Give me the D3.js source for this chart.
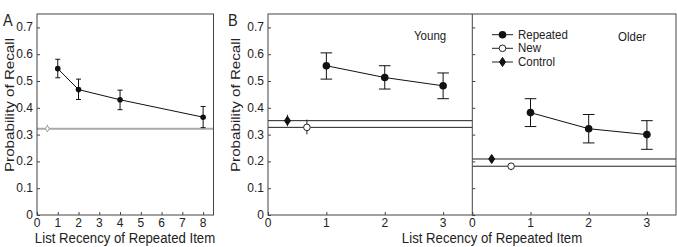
<!DOCTYPE html>
<html>
<head>
<meta charset="utf-8">
<script src="https://cdn.jsdelivr.net/npm/d3@7"></script>
<style>
  body { margin: 0; background: #fff; }
  svg text { font-family: "Liberation Sans", Arial, Helvetica, sans-serif; fill: #222; }
</style>
</head>
<body>
<svg id="chart" width="677" height="247"></svg>
<script>
// ---- data ----
var yTicks = [0, 0.1, 0.2, 0.3, 0.4, 0.5, 0.6, 0.7];

// panel A
var recencyA = [1, 2, 4, 8];
var recallA = [0.546, 0.468, 0.430, 0.365];
var loA = [0.512, 0.431, 0.393, 0.326];
var hiA = [0.581, 0.507, 0.466, 0.405];
var ticksA = [0, 1, 2, 3, 4, 5, 6, 7, 8];
var newA = {x: 0.5, y: 0.322, lo: 0.310, hi: 0.337};

// panel B
var recencyB = [1, 2, 3];
var ticksB = [0, 1, 2, 3];
var youngRepeated = [0.557, 0.513, 0.482];
var youngLo = [0.507, 0.470, 0.434];
var youngHi = [0.605, 0.557, 0.530];
var youngControl = {x: 1 / 3, y: 0.352, lo: 0.331, hi: 0.374};
var youngNew = {x: 2 / 3, y: 0.327, lo: 0.301, hi: 0.356};

var olderRepeated = [0.382, 0.322, 0.300];
var olderLo = [0.330, 0.269, 0.245];
var olderHi = [0.434, 0.375, 0.352];
var olderControl = {x: 1 / 3, y: 0.209, lo: 0.196, hi: 0.222};
var olderNew = {x: 2 / 3, y: 0.182, lo: 0.167, hi: 0.194};

var legendItems = ['Repeated', 'New', 'Control'];

// ---- layout ----
var svg = d3.select('#chart');
var plotTop = 14, plotBottom = 215;
var frameCol = '#444';
var stretch = 1.1; // the figure text is a bit taller than wide

var y = d3.scaleLinear().domain([0, 0.75]).range([plotBottom, plotTop]);

function diamond(g, cx, cy, w, h, fill, stroke) {
	g.append('path')
	.attr('d', 'M' + cx + ',' + (cy - h) + 'L' + (cx + w) + ',' + cy + 'L' + cx + ',' + (cy + h) + 'L' + (cx - w) + ',' + cy + 'Z')
	.attr('fill', fill).attr('stroke', stroke).attr('stroke-width', 1);
}

function hText(x0, y0, str, size, anchor) {
	return svg.append('text')
	.attr('transform', 'translate(' + x0 + ',' + y0 + ') scale(1,' + stretch + ')')
	.attr('text-anchor', anchor || 'start')
	.style('font-size', size + 'px')
	.text(str);
}

function yTitle(xb, yc) {
	svg.append('text')
	.attr('transform', 'translate(' + xb + ',' + yc + ') scale(1,1.15) rotate(-90)')
	.attr('text-anchor', 'middle')
	.style('font-size', '13.2px')
	.text('Probability of Recall');
}

// y axis: inward ticks + labels (labels optional)
function yAxis(xPos, labels) {
	var ax = svg.append('g').attr('transform', 'translate(' + xPos + ',0)')
	.call(d3.axisRight(y).tickValues(yTicks).tickSize(3).tickFormat(''));
	ax.select('.domain').remove();
	ax.selectAll('line').attr('stroke', frameCol);
	if (labels) {
		svg.append('g').selectAll('text').data(yTicks).join('text')
		.attr('x', xPos - 4).attr('y', function(d){ return y(d) + 4; })
		.attr('text-anchor', 'end').style('font-size', '12px')
		.text(function(d){ return d === 0 ? '0' : d3.format('.1f')(d); });
	}
}

function xAxis(x, ticks) {
	var ax = svg.append('g').attr('transform', 'translate(0,' + plotBottom + ')')
	.call(d3.axisTop(x).tickValues(ticks).tickSize(3).tickFormat(''));
	ax.select('.domain').remove();
	ax.selectAll('line').attr('stroke', frameCol);
	svg.append('g').selectAll('text').data(ticks).join('text')
	.attr('x', function(d){ return x(d); }).attr('y', plotBottom + 11.5)
	.attr('text-anchor', 'middle').style('font-size', '12px')
	.text(function(d){ return d; });
}

function errBars(g, x, xs, lo, hi, cap) {
	g.selectAll(null).data(xs).join('path')
	.attr('d', function(d, i){
		var px = x(d);
		var s = 'M' + px + ',' + y(lo[i]) + 'V' + y(hi[i]);
		if (cap) s += 'M' + (px - cap) + ',' + y(lo[i]) + 'h' + (2 * cap) + 'M' + (px - cap) + ',' + y(hi[i]) + 'h' + (2 * cap);
		return s;
	})
	.attr('stroke', '#111').attr('fill', 'none').attr('stroke-width', 1);
}

function repeatedSeries(g, x, xs, vals, lo, hi, r, cap) {
	g.append('path').datum(xs)
	.attr('d', d3.line().x(function(d){ return x(d); }).y(function(d, i){ return y(vals[i]); }))
	.attr('stroke', '#111').attr('fill', 'none').attr('stroke-width', 1);
	errBars(g, x, xs, lo, hi, cap);
	g.selectAll(null).data(xs).join('circle')
	.attr('cx', function(d){ return x(d); }).attr('cy', function(d, i){ return y(vals[i]); })
	.attr('r', r).attr('fill', '#111');
}

function baselines(g, x, x0, x1, ctrl, nw) {
	[ctrl, nw].forEach(function(p){
		g.append('line').attr('x1', x(x0)).attr('x2', x(x1))
		.attr('y1', y(p.y)).attr('y2', y(p.y)).attr('stroke', '#222').attr('stroke-width', 1);
		g.append('line').attr('x1', x(p.x)).attr('x2', x(p.x))
		.attr('y1', y(p.lo)).attr('y2', y(p.hi)).attr('stroke', '#222').attr('stroke-width', 1);
	});
	diamond(g, x(ctrl.x), y(ctrl.y), 3, 4.5, '#111', '#111');
	g.append('circle').attr('cx', x(nw.x)).attr('cy', y(nw.y)).attr('r', 3.3)
	.attr('fill', '#fff').attr('stroke', '#222').attr('stroke-width', 1);
}

// ---- panel A ----
var xA = d3.scaleLinear().domain([0, 8.5]).range([37, 213.5]);
var gA = svg.append('g');
gA.append('line').attr('x1', xA(0)).attr('x2', xA(8.5))
.attr('y1', y(newA.y)).attr('y2', y(newA.y)).attr('stroke', '#aaa').attr('stroke-width', 2);
gA.append('line').attr('x1', xA(newA.x)).attr('x2', xA(newA.x))
.attr('y1', y(newA.lo)).attr('y2', y(newA.hi)).attr('stroke', '#999');
diamond(gA, xA(newA.x), y(newA.y), 2, 3, '#fff', '#999');
repeatedSeries(gA, xA, recencyA, recallA, loA, hiA, 2.8, 2.5);
yAxis(37, true);
xAxis(xA, ticksA);
svg.append('rect').attr('x', 37).attr('y', plotTop).attr('width', 213.5 - 37).attr('height', plotBottom - plotTop)
.attr('fill', 'none').attr('stroke', frameCol).attr('stroke-width', 1);
hText(3, 26, 'A', 14.5);
yTitle(13.5, 105);
hText(125, 243, 'List Recency of Repeated Item', 13.2, 'middle');

// ---- panel B ----
var xY = d3.scaleLinear().domain([0, 3.5]).range([268, 472.3]);
var xO = d3.scaleLinear().domain([0, 3.5]).range([472.3, 676]);
var gY = svg.append('g'), gO = svg.append('g');
baselines(gY, xY, 0, 3.5, youngControl, youngNew);
repeatedSeries(gY, xY, recencyB, youngRepeated, youngLo, youngHi, 3.8, 5.8);
baselines(gO, xO, 0, 3.5, olderControl, olderNew);
repeatedSeries(gO, xO, recencyB, olderRepeated, olderLo, olderHi, 3.8, 5.8);
yAxis(268, true);
yAxis(472.3, false);
xAxis(xY, ticksB);
xAxis(xO, ticksB);
svg.append('rect').attr('x', 268).attr('y', plotTop).attr('width', 676 - 268).attr('height', plotBottom - plotTop)
.attr('fill', 'none').attr('stroke', frameCol).attr('stroke-width', 1);
svg.append('line').attr('x1', 472.3).attr('x2', 472.3).attr('y1', plotTop).attr('y2', plotBottom)
.attr('stroke', frameCol).attr('stroke-width', 1);
hText(228, 26, 'B', 14.5);
yTitle(240, 105);
hText(492, 243, 'List Recency of Repeated Item', 13.2, 'middle');
hText(414, 40, 'Young', 11.5);
hText(618, 40.5, 'Older', 11.5);

// legend
var legRows = [34.7, 48.3, 62];
legendItems.forEach(function(name, i){
	var ly = legRows[i];
	var lg = svg.append('g');
	lg.append('line').attr('x1', 492).attr('x2', 513).attr('y1', ly).attr('y2', ly)
	.attr('stroke', '#222').attr('stroke-width', 1);
	if (name === 'Repeated') lg.append('circle').attr('cx', 502.5).attr('cy', ly).attr('r', 3.8).attr('fill', '#111');
	else if (name === 'New') lg.append('circle').attr('cx', 502.5).attr('cy', ly).attr('r', 3.3).attr('fill', '#fff').attr('stroke', '#222');
	else diamond(lg, 502.5, ly, 3, 4.5, '#111', '#111');
	hText(518, ly + 4, name, 11.5);
});
</script>
</body>
</html>
